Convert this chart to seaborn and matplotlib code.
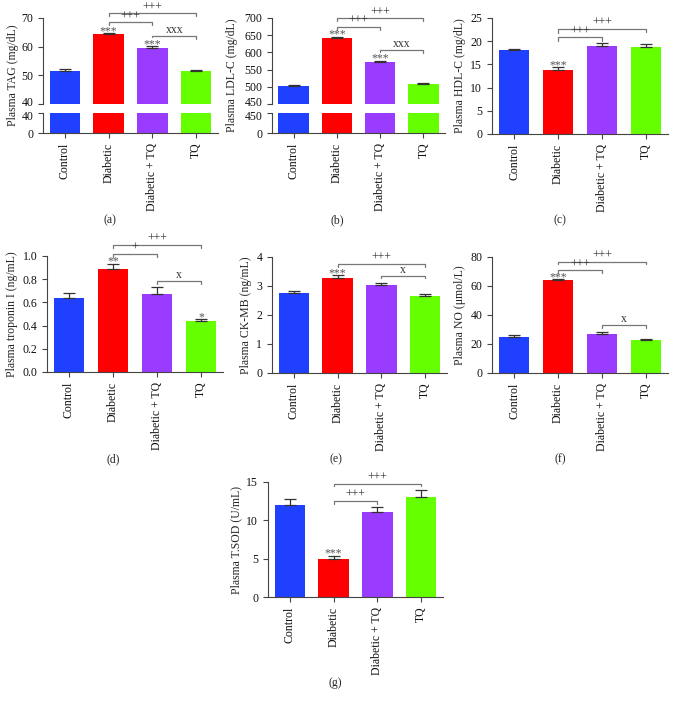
import numpy as np
import matplotlib
matplotlib.use('Agg')
import matplotlib.pyplot as plt
import matplotlib.transforms as mtransforms
import seaborn as sns

sns.set_style('ticks')
plt.rcParams['font.family'] = ['Liberation Serif', 'DejaVu Serif']
plt.rcParams['axes.edgecolor'] = '#444444'
plt.rcParams['axes.linewidth'] = 0.8
plt.rcParams['xtick.color'] = '#444444'
plt.rcParams['ytick.color'] = '#444444'
plt.rcParams['xtick.labelcolor'] = '#111111'
plt.rcParams['ytick.labelcolor'] = '#111111'
plt.rcParams['xtick.major.size'] = 3.5
plt.rcParams['ytick.major.size'] = 3.5

# ---------------- data ----------------
groups = ['Control', 'Diabetic', 'Diabetic + TQ', 'TQ']
colors = ['#2040ff', '#ff0000', '#9a3cff', '#66ff00']

tag = [51.6, 64.3, 59.6, 51.4]
tag_err = [0.6, 0.5, 0.5, 0.6]
ldl = [503, 643, 573, 508]
ldl_err = [1.5, 3, 3, 2]
hdl = [18.0, 13.9, 19.0, 18.8]
hdl_err = [0.3, 0.6, 0.6, 0.5]
trop = [0.634, 0.885, 0.669, 0.438]
trop_err = [0.043, 0.05, 0.066, 0.015]
ckmb = [2.76, 3.29, 3.02, 2.65]
ckmb_err = [0.06, 0.1, 0.1, 0.08]
no = [25.1, 64.1, 26.9, 23.0]
no_err = [1.1, 0.7, 1.6, 0.6]
sod = [11.96, 4.97, 11.1, 13.05]
sod_err = [0.83, 0.44, 0.65, 0.87]

# significance stars vs control: (group index, text)
stars_a = [(1, '***'), (2, '***')]
stars_b = [(1, '***'), (2, '***')]
stars_c = [(1, '***')]
stars_d = [(1, '**'), (3, '*')]
stars_e = [(1, '***')]
stars_f = [(1, '***')]
stars_g = [(1, '***')]

# brackets: (from, to, height, left drop, right drop, text)
br_a = [(1, 2, 68.5, 1.0, 1.0, '+++'), (1, 3, 71.6, 0.8, 0.8, '+++'), (2, 3, 63.8, 0.6, 1.2, 'xxx')]
br_b = [(1, 2, 675, 10, 10, '+++'), (1, 3, 699, 8, 8, '+++'), (2, 3, 607, 6, 9, 'xxx')]
br_c = [(1, 2, 20.8, 0.7, 0.7, '+++'), (1, 3, 22.6, 0.9, 0.7, '+++')]
br_d = [(1, 2, 1.017, 0.025, 0.025, '+'), (1, 3, 1.098, 0.025, 0.025, '+++'), (2, 3, 0.787, 0.025, 0.025, 'x')]
br_e = [(1, 3, 3.76, 0.1, 0.1, '+++'), (2, 3, 3.36, 0.09, 0.09, 'x')]
br_f = [(1, 2, 70.8, 1.8, 1.8, '+++'), (1, 3, 76.6, 1.6, 1.6, '+++'), (2, 3, 33.3, 2.0, 2.0, 'x')]
br_g = [(1, 2, 12.5, 0.35, 0.35, '+++'), (1, 3, 14.8, 0.35, 0.35, '+++')]

W, H = 676, 706
fig = plt.figure(figsize=(W / 100, H / 100), dpi=100)


def box(x1, y1, x2, y2):
    return [x1 / W, 1 - y2 / H, (x2 - x1) / W, (y2 - y1) / H]


def bars(ax, vals, errs):
    sns.barplot(x=groups, y=vals, hue=groups, palette=colors, legend=False, saturation=1,
                width=0.7, linewidth=0, errorbar=None, ax=ax)
    ax.errorbar(range(4), vals, yerr=[np.zeros(4), errs], fmt='none',
                ecolor='#333333', elinewidth=0.9, capsize=4.5, capthick=0.9)
    ax.set_xlim(-0.5, 3.5)
    sns.despine(ax=ax)
    ax.tick_params(labelsize=8.5, width=0.8)


def marks(ax, vals, errs, stars, brs):
    for i, s in stars:
        ax.annotate(s, (i, vals[i] + errs[i]), xytext=(0, -3), textcoords='offset points',
                    ha='center', va='bottom', fontsize=8.5, color='#555555')
    for a, b, y, da, db, t in brs:
        ax.plot([a, a, b, b], [y - da, y, y, y - db], color='#777777', lw=0.9, clip_on=False)
        ax.text((a + b) / 2, y, t, ha='center', va='bottom', fontsize=8.5, color='#333333')


def xlabels(ax):
    ax.set_xticks(range(4))
    ax.set_xticklabels(groups, rotation=90, fontsize=8.5)
    ax.set_xlabel('')


def nudge(ax, idx, dy):
    lab = ax.get_yticklabels()[idx]
    lab.set_transform(lab.get_transform() + mtransforms.ScaledTranslation(0, dy / 72, fig.dpi_scale_trans))


def broken(x1, x2, vals, errs, lo, hi, ticks, label, stars, brs, lab_x):
    up = fig.add_axes(box(x1, 18, x2, 104))
    dn = fig.add_axes(box(x1, 113, x2, 133))
    bars(up, vals, errs)
    bars(dn, vals, errs)
    up.set_ylim(lo, hi)
    up.set_yticks(ticks)
    up.spines['bottom'].set_visible(False)
    up.set_xticks([])
    dn.set_ylim(0, lo)
    dn.set_yticks([0, lo])
    nudge(up, 0, 1.6)
    nudge(dn, 1, -1.6)
    xlabels(dn)
    marks(up, vals, errs, stars, brs)
    fig.text(lab_x / W, 1 - 75 / H, label, rotation=90, ha='center', va='center', fontsize=8.5)


def single(b, vals, errs, lim, ticks, label, stars, brs):
    ax = fig.add_axes(box(*b))
    bars(ax, vals, errs)
    ax.set_ylim(0, lim)
    ax.set_yticks(ticks)
    xlabels(ax)
    ax.set_ylabel(label, fontsize=8.5, labelpad=3)
    marks(ax, vals, errs, stars, brs)
    return ax


broken(43, 218, tag, tag_err, 40, 70, [40, 50, 60, 70], 'Plasma TAG (mg/dL)', stars_a, br_a, 13)
broken(272, 445, ldl, ldl_err, 450, 700, [450, 500, 550, 600, 650, 700], 'Plasma LDL-C (mg/dL)', stars_b, br_b, 232)
single((492, 18, 668, 134), hdl, hdl_err, 25, [0, 5, 10, 15, 20, 25], 'Plasma HDL-C (mg/dL)', stars_c, br_c)
single((47, 256, 223, 372), trop, trop_err, 1.0, [0, 0.2, 0.4, 0.6, 0.8, 1.0], 'Plasma troponin I (ng/mL)', stars_d, br_d)
single((272, 257, 447, 373), ckmb, ckmb_err, 4, [0, 1, 2, 3, 4], 'Plasma CK-MB (ng/mL)', stars_e, br_e)
single((492, 257, 668, 373), no, no_err, 80, [0, 20, 40, 60, 80], 'Plasma NO (μmol/L)', stars_f, br_f)
single((268, 482, 443, 597), sod, sod_err, 15, [0, 5, 10, 15], 'Plasma T.SOD (U/mL)', stars_g, br_g)

for t, x, y in [('(a)', 110, 220), ('(b)', 337, 220), ('(c)', 560, 220),
                ('(d)', 113, 459), ('(e)', 336, 459), ('(f)', 560, 459), ('(g)', 335, 683)]:
    fig.text(x / W, 1 - y / H, t, ha='center', va='center', fontsize=8.5)

fig.savefig('out.png', dpi=100)
